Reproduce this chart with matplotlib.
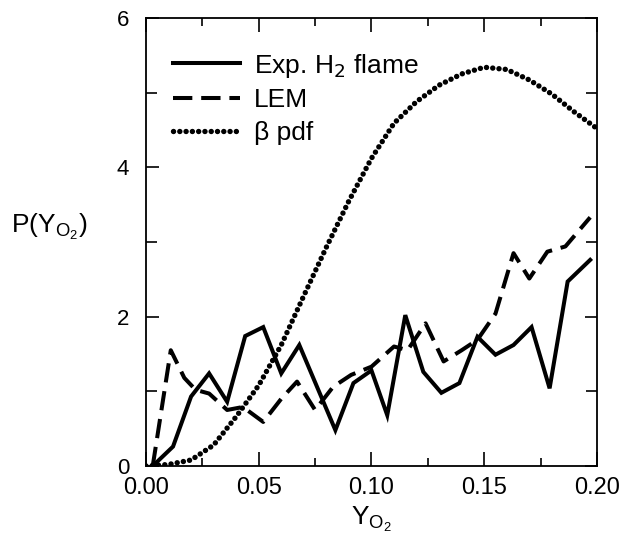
import matplotlib.pyplot as plt
from matplotlib.ticker import MultipleLocator, FormatStrFormatter

plt.rcParams["font.family"] = ["Liberation Sans", "DejaVu Sans"]

# Experimental H2 flame pdf
exp_x = [0.003, 0.012, 0.020, 0.028, 0.036, 0.044, 0.052, 0.060, 0.068, 0.076,
         0.084, 0.092, 0.100, 0.107, 0.115, 0.123, 0.131, 0.139, 0.147, 0.155,
         0.163, 0.171, 0.179, 0.187, 0.197]
exp_y = [0.0, 0.26, 0.93, 1.24, 0.86, 1.74, 1.86, 1.24, 1.62, 1.05,
         0.48, 1.11, 1.28, 0.68, 2.02, 1.26, 0.98, 1.11, 1.73, 1.49,
         1.62, 1.86, 1.04, 2.47, 2.76]

# LEM pdf
lem_x = [0.003, 0.011, 0.017, 0.022, 0.028, 0.036, 0.043, 0.052, 0.060, 0.067,
         0.075, 0.083, 0.091, 0.100, 0.110, 0.116, 0.124, 0.132, 0.140, 0.147,
         0.155, 0.163, 0.170, 0.178, 0.186, 0.197]
lem_y = [0.0, 1.55, 1.18, 1.02, 0.97, 0.75, 0.79, 0.59, 0.9, 1.13,
         0.75, 1.06, 1.22, 1.33, 1.6, 1.55, 1.91, 1.40, 1.55, 1.69,
         2.04, 2.85, 2.51, 2.87, 2.94, 3.33]

# beta pdf
beta_x = [0.0, 0.01, 0.02, 0.03, 0.04, 0.05, 0.06, 0.07, 0.08, 0.09, 0.10,
          0.11, 0.12, 0.13, 0.14, 0.15, 0.16, 0.17, 0.18, 0.19, 0.20]
beta_y = [0.0, 0.02, 0.08, 0.28, 0.66, 1.08, 1.62, 2.28, 2.93, 3.55, 4.12,
          4.59, 4.88, 5.10, 5.25, 5.34, 5.31, 5.17, 4.98, 4.74, 4.52]

fig = plt.figure(figsize=(6.23, 5.51), dpi=100)
ax = fig.add_axes([0.2343, 0.1543, 0.7239, 0.8131])

ax.plot(exp_x, exp_y, color="black", lw=2.9, solid_joinstyle="miter",
        label="Exp. H$_2$ flame")
ax.plot(lem_x, lem_y, color="black", lw=2.9, dashes=(4.8, 2.2),
        label="LEM")
ax.plot(beta_x, beta_y, color="black", lw=3.9, dashes=(0.01, 1.15),
        dash_capstyle="round", label="β pdf")

ax.set_xlim(0, 0.2)
ax.set_ylim(0, 6)
ax.xaxis.set_major_locator(MultipleLocator(0.05))
ax.xaxis.set_minor_locator(MultipleLocator(0.025))
ax.xaxis.set_major_formatter(FormatStrFormatter("%.2f"))
ax.yaxis.set_major_locator(MultipleLocator(2))
ax.yaxis.set_minor_locator(MultipleLocator(1))

ax.tick_params(which="both", direction="in", top=True, right=True, width=1.2)
ax.tick_params(axis="x", which="major", length=10, pad=8, labelsize=17)
ax.tick_params(axis="x", which="minor", length=6)
ax.tick_params(axis="y", which="major", length=9, pad=12, labelsize=16)
ax.tick_params(axis="y", which="minor", length=8)
for s in ax.spines.values():
    s.set_linewidth(1.3)

ax.set_xlabel("$\\mathregular{Y_{O_2}}$", fontsize=19, labelpad=4)
ax.set_ylabel("$\\mathregular{P(Y_{O_2})}$", fontsize=19, rotation=0)
ax.yaxis.set_label_coords(-0.215, 0.5)

ax.legend(loc="upper left", frameon=False, fontsize=19, handlelength=2.55,
          handletextpad=0.5, labelspacing=0.33, borderaxespad=0, borderpad=0,
          bbox_to_anchor=(0.06, 0.925))

fig.savefig("out.png", dpi=100)
